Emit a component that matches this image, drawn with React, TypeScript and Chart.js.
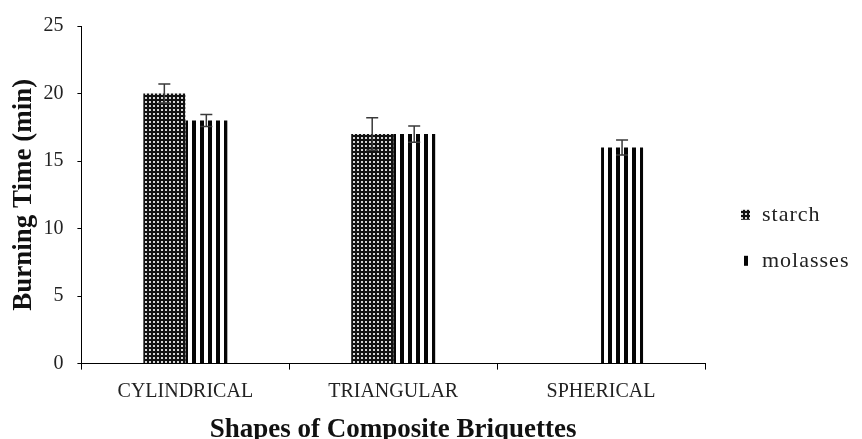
import React, { useEffect, useRef } from 'react';
import { Chart, registerables } from 'chart.js';

Chart.register(...registerables);

const categories = ['CYLINDRICAL', 'TRIANGULAR', 'SPHERICAL'];
const seriesNames = ['starch', 'molasses'];
const starchValues: (number | null)[] = [20, 17, null];
const molassesValues: (number | null)[] = [18, 17, 16];
const starchErrors: (number | null)[] = [0.7, 1.2, null];
const molassesErrors: (number | null)[] = [0.45, 0.6, 0.55];
const yTicks = [0, 5, 10, 15, 20, 25];

const FONT = "'Liberation Serif', 'Times New Roman', serif";

function makeStarchPattern(ctx: CanvasRenderingContext2D) {
  const c = document.createElement('canvas');
  c.width = 4;
  c.height = 4;
  const g = c.getContext('2d')!;
  g.fillStyle = '#111';
  g.fillRect(0, 0, 4, 4);
  g.fillStyle = '#d4d4d4';
  g.fillRect(1, 1, 2, 2);
  return ctx.createPattern(c, 'repeat')!;
}

function makeStripePattern(ctx: CanvasRenderingContext2D) {
  const c = document.createElement('canvas');
  c.width = 8;
  c.height = 4;
  const g = c.getContext('2d')!;
  g.fillStyle = '#ffffff';
  g.fillRect(0, 0, 8, 4);
  g.fillStyle = '#050505';
  g.fillRect(0, 0, 4, 4);
  return ctx.createPattern(c, 'repeat')!;
}

const errorBarPlugin = {
  id: 'errorBars',
  afterDatasetsDraw(chart: any) {
    const ctx = chart.ctx;
    const yScale = chart.scales.y;
    chart.data.datasets.forEach((ds: any, i: number) => {
      const meta = chart.getDatasetMeta(i);
      meta.data.forEach((bar: any, j: number) => {
        const v = ds.data[j];
        const e = ds.errors ? ds.errors[j] : null;
        if (v == null || e == null) return;
        const top = yScale.getPixelForValue(v + e);
        const bot = yScale.getPixelForValue(v - e);
        const x = bar.x;
        ctx.save();
        ctx.strokeStyle = '#3a3a3a';
        ctx.lineWidth = 1.5;
        ctx.beginPath();
        ctx.moveTo(x, top);
        ctx.lineTo(x, bot);
        ctx.moveTo(x - 6, top);
        ctx.lineTo(x + 6, top);
        ctx.moveTo(x - 6, bot);
        ctx.lineTo(x + 6, bot);
        ctx.stroke();
        ctx.restore();
      });
    });
  },
};

const legendPlugin = {
  id: 'sideLegend',
  afterDraw(chart: any) {
    const ctx = chart.ctx;
    const { right, top, bottom } = chart.chartArea;
    const center = (top + bottom) / 2 + 43;
    const gap = 46;
    const datasets = chart.data.datasets;
    datasets.forEach((ds: any, i: number) => {
      const yc = center + (i - (datasets.length - 1) / 2) * gap;
      const x = right + 36;
      ctx.save();
      ctx.fillStyle = ds.backgroundColor;
      ctx.fillRect(x, yc - 5, 9, 10);
      ctx.fillStyle = '#222';
      ctx.font = `22px ${FONT}`;
      (ctx as any).letterSpacing = '1px';
      ctx.textBaseline = 'middle';
      ctx.textAlign = 'left';
      ctx.fillText(ds.label, x + 21, yc);
      ctx.restore();
    });
  },
};

export default function App() {
  const canvasRef = useRef<HTMLCanvasElement | null>(null);

  useEffect(() => {
    const canvas = canvasRef.current!;
    const ctx = canvas.getContext('2d')!;
    const chart = new Chart(canvas, {
      type: 'bar',
      data: {
        labels: categories,
        datasets: [
          {
            label: seriesNames[0],
            data: starchValues,
            errors: starchErrors,
            backgroundColor: makeStarchPattern(ctx),
            borderWidth: 0,
            categoryPercentage: 0.404,
            barPercentage: 1,
          } as any,
          {
            label: seriesNames[1],
            data: molassesValues,
            errors: molassesErrors,
            backgroundColor: makeStripePattern(ctx),
            borderWidth: 0,
            categoryPercentage: 0.404,
            barPercentage: 1,
          } as any,
        ],
      },
      options: {
        responsive: false,
        animation: false,
        layout: { padding: { top: 20, left: 4, right: 157, bottom: 0 } },
        plugins: {
          legend: { display: false },
          tooltip: { enabled: false },
        },
        scales: {
          x: {
            grid: {
              offset: true,
              drawOnChartArea: false,
              drawTicks: true,
              tickLength: 6,
              color: '#000',
            },
            border: { display: true, color: '#000', width: 1 },
            ticks: {
              color: '#222',
              font: { family: FONT, size: 20 },
              padding: 10,
              maxRotation: 0,
            },
            title: {
              display: true,
              text: 'Shapes of Composite Briquettes',
              color: '#111',
              font: { family: FONT, size: 27, weight: 'bold' },
              padding: { top: 0, bottom: -7 },
            },
          },
          y: {
            min: 0,
            max: 25,
            afterBuildTicks: (scale: any) => {
              scale.ticks = yTicks.map((v) => ({ value: v }));
            },
            grid: {
              drawOnChartArea: false,
              drawTicks: true,
              tickLength: 4,
              color: '#000',
            },
            border: { display: true, color: '#000', width: 1 },
            ticks: {
              color: '#222',
              font: { family: FONT, size: 20 },
              padding: 14,
            },
            title: {
              display: true,
              text: 'Burning Time (min)',
              color: '#111',
              font: { family: FONT, size: 27, weight: 'bold' },
              padding: { top: 4, bottom: -11 },
            },
          },
        },
      },
      plugins: [errorBarPlugin, legendPlugin],
    });
    return () => chart.destroy();
  }, []);

  return (
    <div style={{ position: 'absolute', left: 0, top: 0, width: 862, height: 439, background: '#fff' }}>
      <canvas ref={canvasRef} width={862} height={439} style={{ display: 'block' }} />
    </div>
  );
}
